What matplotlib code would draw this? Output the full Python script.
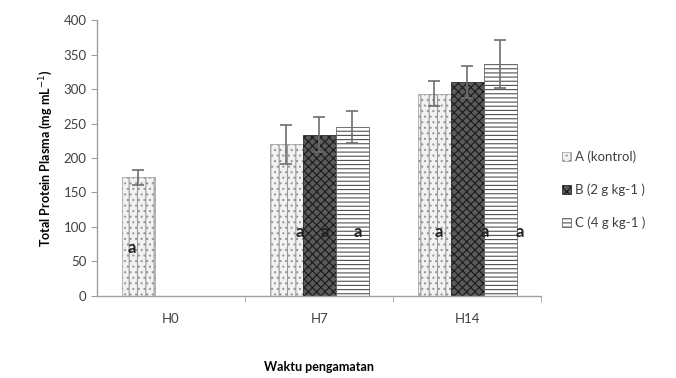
import matplotlib
matplotlib.use("Agg")
import matplotlib.pyplot as plt
import numpy as np

plt.rcParams['font.family'] = ['Lato', 'DejaVu Sans']
plt.rcParams['hatch.linewidth'] = 0.8

categories = ["H0", "H7", "H14"]
series = ["A (kontrol)", "B (2 g kg-1 )", "C (4 g kg-1 )"]
values = {
    "A (kontrol)": [172, 220, 293],
    "B (2 g kg-1 )": [np.nan, 234, 310],
    "C (4 g kg-1 )": [np.nan, 245, 336],
}
errors = {
    "A (kontrol)": [11, 28, 18],
    "B (2 g kg-1 )": [np.nan, 25, 23],
    "C (4 g kg-1 )": [np.nan, 23, 35],
}
letters = {
    "A (kontrol)": ["a", "a", "a"],
    "B (2 g kg-1 )": ["", "a", "a"],
    "C (4 g kg-1 )": ["", "a", "a"],
}
label_y = [70, 93, 93]
label_dx = {
    "A (kontrol)": [-0.04, 0.095, 0.035],
    "B (2 g kg-1 )": [0, 0.04, 0.12],
    "C (4 g kg-1 )": [0, 0.04, 0.13],
}

fig = plt.figure(figsize=(6.76, 3.78), dpi=100)
ax = fig.add_axes([0.1435, 0.217, 0.657, 0.73])

styles = [
    dict(facecolor="#f2f2f2", edgecolor="#9a9a9a", hatch="||..."),
    dict(facecolor="#5a5a5a", edgecolor="#1a1a1a", hatch="xxxx"),
    dict(facecolor="#ffffff", edgecolor="#505050", hatch="----"),
]
x = np.arange(len(categories))
w = 0.223
for i, s in enumerate(series):
    xs = x + (i - 1) * w
    v = np.array(values[s], dtype=float)
    e = np.array(errors[s], dtype=float)
    ax.bar(xs, v, width=w, linewidth=0.5, label=s, **styles[i])
    ax.errorbar(xs, v, yerr=e, fmt="none", ecolor="#6e6e6e", elinewidth=1.2,
                capsize=4, capthick=1.2)
    for j, t in enumerate(letters[s]):
        if t:
            ax.text(xs[j] + label_dx[s][j], label_y[j], t,
                    fontsize=12, fontweight="bold", color="#222222",
                    ha="center", va="center")

ax.set_xlim(-0.5, 2.5)
ax.set_ylim(0, 400)
ax.set_yticks(np.arange(0, 401, 50))
ax.set_xticks(x)
ax.set_xticklabels(categories)
ax.set_xticks([0.5, 1.5, 2.5], minor=True)
ax.tick_params(axis="x", which="major", length=0, pad=12, labelsize=9.5,
               colors="#404040")
ax.tick_params(axis="x", which="minor", length=4, color="#a0a0a0")
ax.tick_params(axis="y", length=4, color="#a0a0a0", labelsize=9.5,
               labelcolor="#404040")
for sp in ["top", "right"]:
    ax.spines[sp].set_visible(False)
for sp in ["left", "bottom"]:
    ax.spines[sp].set_color("#a0a0a0")
    ax.spines[sp].set_linewidth(1.0)

ax.set_ylabel("Total Protein Plasma (mg mL$^{-1}$)", fontsize=9,
              fontweight="bold", labelpad=6)
ax.set_xlabel("Waktu pengamatan", fontsize=9, fontweight="bold",
              labelpad=26)

leg = ax.legend(loc="center left", bbox_to_anchor=(1.02, 0.385), frameon=False,
                fontsize=9.5, handlelength=0.7, handleheight=0.7,
                labelspacing=1.55, handletextpad=0.3)
for t in leg.get_texts():
    t.set_color("#404040")

fig.savefig("out.png", dpi=100)
